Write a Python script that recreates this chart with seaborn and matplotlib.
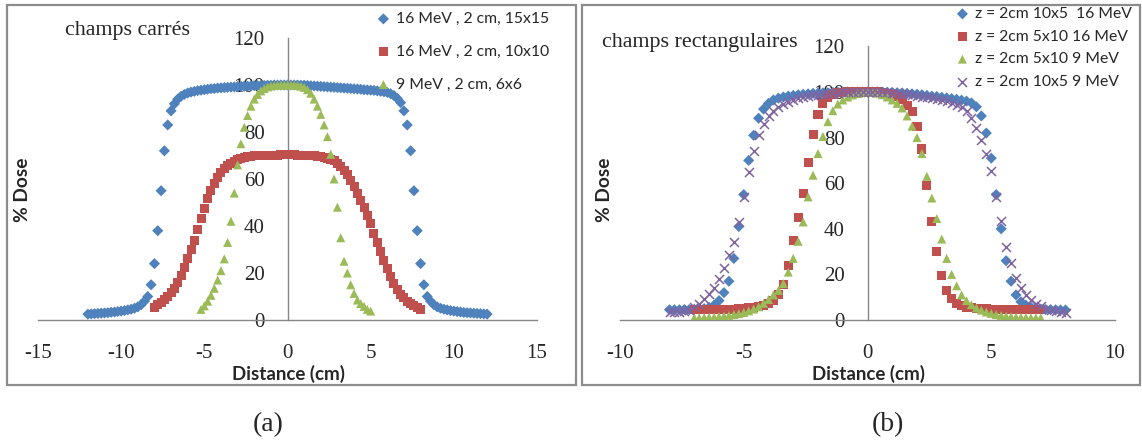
import numpy as np
import matplotlib
matplotlib.use("Agg")
import matplotlib.pyplot as plt
from matplotlib.patches import Rectangle
import seaborn as sns

# ---- panel (a): square fields, 0.2 cm sampling ----
x_start_a = [-12.0, -8.0, -5.2]
labels_a = ["16 MeV , 2 cm, 15x15", "16 MeV , 2 cm, 10x10", "9 MeV , 2 cm, 6x6"]

dose_15x15 = [
    2.5, 2.6, 2.7, 2.8, 2.9, 3.0, 3.1, 3.3, 3.4, 3.6,
    3.8, 4.0, 4.3, 4.6, 5.0, 5.6, 6.5, 8.0, 10, 15,
    24, 38, 55, 72, 83, 89, 92, 94, 95.2, 96,
    96.6, 97, 97.3, 97.6, 97.8, 98, 98.2, 98.4, 98.5, 98.7,
    98.8, 98.9, 99, 99.1, 99.2, 99.3, 99.4, 99.5, 99.5, 99.6,
    99.7, 99.7, 99.8, 99.8, 99.9, 99.9, 100, 100, 100, 100,
    100,
    100, 100, 100, 99.9, 99.9, 99.8, 99.7, 99.6, 99.5, 99.4,
    99.3, 99.2, 99.1, 99.0, 98.9, 98.8, 98.7, 98.6, 98.5, 98.4,
    98.3, 98.2, 98.0, 97.9, 97.8, 97.7, 97.5, 97.3, 97.1, 96.8,
    96.3, 95.5, 94.3, 92.5, 89, 83, 72, 55, 38, 24,
    15, 10, 8.0, 6.5, 5.6, 5.0, 4.6, 4.3, 4.0, 3.8,
    3.6, 3.4, 3.2, 3.1, 3.0, 2.9, 2.8, 2.7, 2.6, 2.5,
]
dose_10x10 = [
    5.5, 6.5, 7.5, 8.7, 10, 11.5, 13.5, 16, 19, 22.5,
    26, 30, 34, 38.5, 43, 47.5, 51.5, 55, 58, 60.5,
    62.8, 64.5, 65.8, 66.8, 67.6, 68.2, 68.7, 69.1, 69.4, 69.6,
    69.8, 69.9, 70, 70.1, 70.1, 70.2, 70.2, 70.2, 70.3, 70.3,
    70.3,
    70.3, 70.3, 70.2, 70.2, 70.1, 70.0, 69.9, 69.8, 69.7, 69.5,
    69.2, 68.9, 68.5, 67.8, 66.8, 65.5, 63.8, 61.8, 59.5, 57,
    54, 51, 48, 44.5, 41, 37, 33, 29, 25.5, 22,
    18.5, 15.5, 13, 11, 9.5, 8, 7, 6, 5.2, 4.5,
]
dose_6x6 = [
    4.5, 6.0, 8.0, 10.5, 13.5, 17, 21, 26, 33, 42,
    54, 66, 75, 82, 87, 91, 94, 96, 97.5, 98.5,
    99.2, 99.6, 99.8, 100, 100, 100,
    100,
    100, 100, 99.8, 99.5, 99, 98, 96.5, 94, 91, 87.5,
    83, 78, 70.5, 60, 48, 35, 25, 20, 15, 11.3,
    8.5, 7, 5.8, 4.5, 3.8,
]

# ---- panel (b): rectangular fields, 0.2 cm sampling ----
x_start_b = [-8.0, -7.0, -7.0, -8.0]
labels_b = ["z = 2cm 10x5  16 MeV", "z = 2cm 5x10 16 MeV",
            "z = 2cm 5x10 9 MeV", "z = 2cm 10x5 9 MeV"]

dose_10x5_16 = [
    4.5, 4.5, 4.5, 4.6, 4.6, 4.7, 4.8, 5.0, 5.5, 6.5,
    8.5, 12, 17, 27, 41, 55, 70, 81, 88.5, 92.5,
    95, 96.5, 97.3, 97.8, 98.2, 98.5, 98.8, 99, 99.2, 99.4,
    99.5, 99.6, 99.7, 99.8, 99.9, 100, 100, 100, 100, 100,
    100,
    100, 100, 100, 99.9, 99.8, 99.7, 99.6, 99.4, 99.2, 99,
    98.8, 98.5, 98.2, 98, 97.7, 97.4, 97.1, 96.8, 96.4, 96,
    95.2, 93.5, 89.5, 82, 71, 55, 40, 26, 17, 11,
    8, 6.5, 5.6, 5.1, 4.8, 4.6, 4.5, 4.5, 4.4, 4.4,
]
dose_5x10_16 = [
    4.5, 4.5, 4.5, 4.5, 4.5, 4.6, 4.6, 4.7, 4.8, 4.9,
    5.1, 5.3, 5.5, 5.8, 6.3, 7.2, 8.5, 11, 15.5, 24,
    35, 45, 55.5, 69, 81.5, 90, 95, 97.8, 99, 99.6,
    99.9, 100, 100, 100, 100,
    100,
    100, 100, 99.8, 99.5, 99, 98, 96.5, 94, 91.5, 85,
    75, 59, 43, 30, 19.5, 13, 9.3, 7.3, 6.3, 5.7,
    5.3, 5.1, 5.0, 4.9, 4.8, 4.7, 4.6, 4.6, 4.5, 4.5,
    4.5, 4.5, 4.4, 4.4, 4.4,
]
dose_5x10_9 = [
    1.0, 1.0, 1.1, 1.2, 1.3, 1.5, 1.7, 2.0, 2.4, 2.8,
    3.3, 4.0, 4.8, 5.8, 7.3, 9, 11, 13, 16, 21,
    27, 34.5, 43, 54, 63.5, 73, 80.5, 87, 91.8, 94.7,
    96.5, 97.8, 98.7, 99.3, 99.8,
    100,
    99.9, 99.5, 98.8, 97.8, 96.5, 95, 93, 89.5, 85, 80,
    73, 63, 53.5, 44.5, 35.5, 27, 20, 15, 11, 8.5,
    6.7, 5.3, 4.3, 3.5, 2.9, 2.4, 2.0, 1.7, 1.5, 1.3,
    1.2, 1.1, 1.0, 1.0, 1.0,
]
dose_10x5_9 = [
    3.5, 3.5, 3.7, 4.0, 4.6, 5.5, 7, 9, 11.5, 14,
    18, 23, 28.5, 34, 43, 54, 65, 74, 81, 86,
    89.5, 91.8, 93.5, 94.8, 95.8, 96.6, 97.2, 97.7, 98.1, 98.5,
    98.8, 99.1, 99.3, 99.5, 99.6, 99.8, 99.9, 100, 100, 100,
    100,
    100, 100, 99.9, 99.8, 99.7, 99.5, 99.3, 99.0, 98.7, 98.4,
    98.0, 97.6, 97.2, 96.8, 96.4, 95.9, 95.3, 94.5, 93.5, 91.8,
    88.5, 84, 79, 73, 65.5, 54, 43.5, 32, 25, 18.5,
    14, 11, 8.8, 7.2, 6, 5, 4.3, 3.8, 3.4, 3.1,
]

y_ticks = [0, 20, 40, 60, 80, 100, 120]
x_ticks_a = [-15, -10, -5, 0, 5, 10, 15]
x_ticks_b = [-10, -5, 0, 5, 10]

colors = ["#4F81BD", "#C0504D", "#9BBB59", "#8064A2"]
markers = ["D", "s", "^", "x"]
sizes = [32, 42, 42, 42]


def positions(x0, values, step=0.2):
    return np.round(x0 + step * np.arange(len(values)), 2)


sns.set_style("white")
plt.rcParams["font.family"] = ["Liberation Serif", "DejaVu Serif"]
plt.rcParams["axes.unicode_minus"] = False

fig = plt.figure(figsize=(11.42, 4.41), dpi=100)
W, H = 1142, 441


def draw_panel(rect, series, starts, labels, xticks, xlim, leg_anchor, leg_spacing):
    ax = fig.add_axes(rect)
    for i, (vals, x0, lab) in enumerate(zip(series, starts, labels)):
        kw = dict(edgecolor="none")
        if markers[i] == "x":
            kw = dict(linewidth=1.1)
        sns.scatterplot(x=positions(x0, vals), y=vals, ax=ax, marker=markers[i],
                        color=colors[i], s=sizes[i], label=lab, zorder=2 + i, **kw)
    ax.set_xlim(*xlim)
    ax.set_ylim(0, 120)
    ax.set_xticks(xticks)
    ax.set_yticks(y_ticks)
    for side in ["top", "right"]:
        ax.spines[side].set_visible(False)
    ax.spines["left"].set_position(("data", 0))
    for side in ["left", "bottom"]:
        ax.spines[side].set_color("#868686")
        ax.spines[side].set_linewidth(1.0)
    ax.tick_params(axis="both", length=0, labelsize=15)
    ax.tick_params(axis="x", pad=17.5)
    ax.tick_params(axis="y", pad=16.5)
    ax.set_xlabel("")
    ax.set_ylabel("")
    ax.legend(loc="upper left", bbox_to_anchor=leg_anchor, bbox_transform=fig.transFigure,
              frameon=False, prop={"family": "Lato", "size": 11.3}, handletextpad=0.2,
              labelspacing=leg_spacing, borderaxespad=0, borderpad=0, handlelength=1.2)
    return ax


ax_a = draw_panel([38 / W, 1 - 320 / H, 499 / W, 282 / H],
                  [dose_15x15, dose_10x10, dose_6x6], x_start_a, labels_a,
                  x_ticks_a, (-15, 15), (374 / W, 1 - 12 / H), 1.2)
ax_b = draw_panel([620 / W, 1 - 320 / H, 495 / W, 273.6 / H],
                  [dose_10x5_16, dose_5x10_16, dose_5x10_9, dose_10x5_9], x_start_b, labels_b,
                  x_ticks_b, (-10, 10), (953 / W, 1 - 7 / H), 0.55)

# panel frames
for (x0, x1) in [(7, 576), (582, 1140)]:
    fig.add_artist(Rectangle((x0 / W, 1 - 385 / H), (x1 - x0) / W, 380 / H,
                             transform=fig.transFigure, fill=False,
                             edgecolor="#8c8c8c", linewidth=1.6))

sans = ["Lato", "DejaVu Sans"]
for xc in [22, 604]:
    fig.text(xc / W, 1 - 190 / H, "% Dose", rotation=90, ha="center", va="center",
             family=sans, fontweight="bold", fontsize=13.8)
for xc in [289, 868]:
    fig.text(xc / W, 1 - 374 / H, "Distance (cm)", ha="center", va="center",
             family=sans, fontweight="bold", fontsize=13.5)

fig.text(65 / W, 1 - 30 / H, "champs carrés", ha="left", va="center", fontsize=15.8)
fig.text(602 / W, 1 - 42 / H, "champs rectangulaires", ha="left", va="center", fontsize=15.8)

fig.text(268 / W, 1 - 425 / H, "(a)", ha="center", va="center", fontsize=20)
fig.text(888 / W, 1 - 425 / H, "(b)", ha="center", va="center", fontsize=20)

fig.savefig("out.png", dpi=100)
